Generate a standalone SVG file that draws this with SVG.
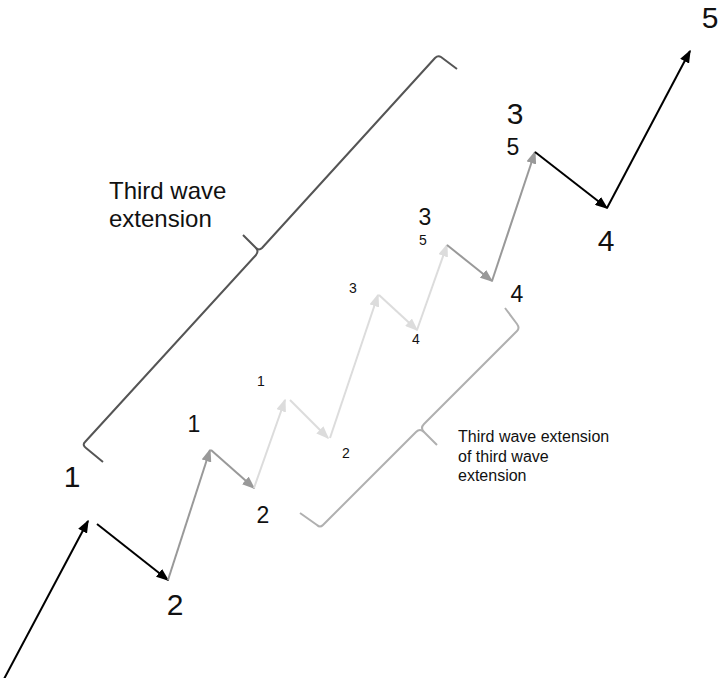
<svg xmlns="http://www.w3.org/2000/svg" width="718" height="678" viewBox="0 0 718 678">
<style>
.lbl{font-family:"Liberation Sans",Arial,sans-serif;fill:#111;text-anchor:middle}
.big{font-size:30px}
.med{font-size:23px}
.sm{font-size:14px}
.cap{font-family:"Liberation Sans",Arial,sans-serif;fill:#111}
.blk{stroke:#000;stroke-width:2;fill:none}
.mid{stroke:#999;stroke-width:2;fill:none}
.lt{stroke:#dcdcdc;stroke-width:2;fill:none}
.br1{stroke:#555;stroke-width:2;fill:none;stroke-linejoin:round}
.br2{stroke:#b0b0b0;stroke-width:2;fill:none;stroke-linejoin:round}
</style>
<defs>
<marker id="aBlk" markerUnits="userSpaceOnUse" markerWidth="13" markerHeight="10" refX="11.5" refY="5" orient="auto"><path d="M0,0 L13,5 L0,10 z" fill="#000"/></marker>
<marker id="aMid" markerUnits="userSpaceOnUse" markerWidth="13" markerHeight="10" refX="11.5" refY="5" orient="auto"><path d="M0,0 L13,5 L0,10 z" fill="#999"/></marker>
<marker id="aLt" markerUnits="userSpaceOnUse" markerWidth="13" markerHeight="10" refX="11.5" refY="5" orient="auto"><path d="M0,0 L13,5 L0,10 z" fill="#dcdcdc"/></marker>
</defs>
<g id="brackets">
<g id="bracket-big">
<path class="br1" d="M103,462 L86,448 Q82,445 85,442 L256,255 Q259,251 256,248 L243,235"/>
<path class="br1" d="M457,69 L441,57 Q438,55 435,58 L262,248 Q259,251 256,248"/>
</g>
<g id="bracket-small">
<path class="br2" d="M505,308 L517,324 Q520,328 517,331 L424,424 Q420,428 424,432 L437,445"/>
<path class="br2" d="M300,513 L317,525 Q320,528 323,525 L416,432 Q420,428 424,432"/>
</g>
</g>
<g id="connectors">
<path class="blk" d="M4,679 L88,521" marker-end="url(#aBlk)"/>
<path class="blk" d="M97,524 L168,580" marker-end="url(#aBlk)"/>
<path class="mid" d="M168,580 L210,450" marker-end="url(#aMid)"/>
<path class="mid" d="M211,450 L254,488" marker-end="url(#aMid)"/>
<path class="lt" d="M254,488 L285,400" marker-end="url(#aLt)"/>
<path class="lt" d="M290,400 L328,438" marker-end="url(#aLt)"/>
<path class="lt" d="M330,438 L378,295" marker-end="url(#aLt)"/>
<path class="lt" d="M379,295 L417,330" marker-end="url(#aLt)"/>
<path class="lt" d="M417,330 L447,245" marker-end="url(#aLt)"/>
<path class="mid" d="M447,245 L492,281" marker-end="url(#aMid)"/>
<path class="mid" d="M492,281 L535,152" marker-end="url(#aMid)"/>
<path class="blk" d="M535,152 L607,208" marker-end="url(#aBlk)"/>
<path class="blk" d="M607,208 L690,51" marker-end="url(#aBlk)"/>
</g>
<g id="labels">
<g id="n-big-1"><text class="lbl big" x="72" y="487">1</text></g>
<g id="n-big-2"><text class="lbl big" x="175" y="615">2</text></g>
<g id="n-big-3"><text class="lbl big" x="515" y="124">3</text></g>
<g id="n-big-4"><text class="lbl big" x="606" y="251">4</text></g>
<g id="n-big-5"><text class="lbl big" x="710" y="28">5</text></g>
<g id="n-med-1"><text class="lbl med" x="194" y="432">1</text></g>
<g id="n-med-2"><text class="lbl med" x="263" y="523">2</text></g>
<g id="n-med-3"><text class="lbl med" x="425" y="225">3</text></g>
<g id="n-med-4"><text class="lbl med" x="517" y="302">4</text></g>
<g id="n-med-5"><text class="lbl med" x="513" y="155">5</text></g>
<g id="n-sm-1"><text class="lbl sm" x="261" y="386">1</text></g>
<g id="n-sm-2"><text class="lbl sm" x="346" y="458">2</text></g>
<g id="n-sm-3"><text class="lbl sm" x="353" y="293">3</text></g>
<g id="n-sm-4"><text class="lbl sm" x="416" y="344">4</text></g>
<g id="n-sm-5"><text class="lbl sm" x="423" y="245">5</text></g>
<g id="caption-big"><text class="cap" font-size="24" x="109" y="199">Third wave</text><text class="cap" font-size="24" x="109" y="227">extension</text></g>
<g id="caption-small"><text class="cap" font-size="16" x="458" y="442">Third wave extension</text><text class="cap" font-size="16" x="458" y="462">of third wave</text><text class="cap" font-size="16" x="458" y="481">extension</text></g>
</g>
</svg>
